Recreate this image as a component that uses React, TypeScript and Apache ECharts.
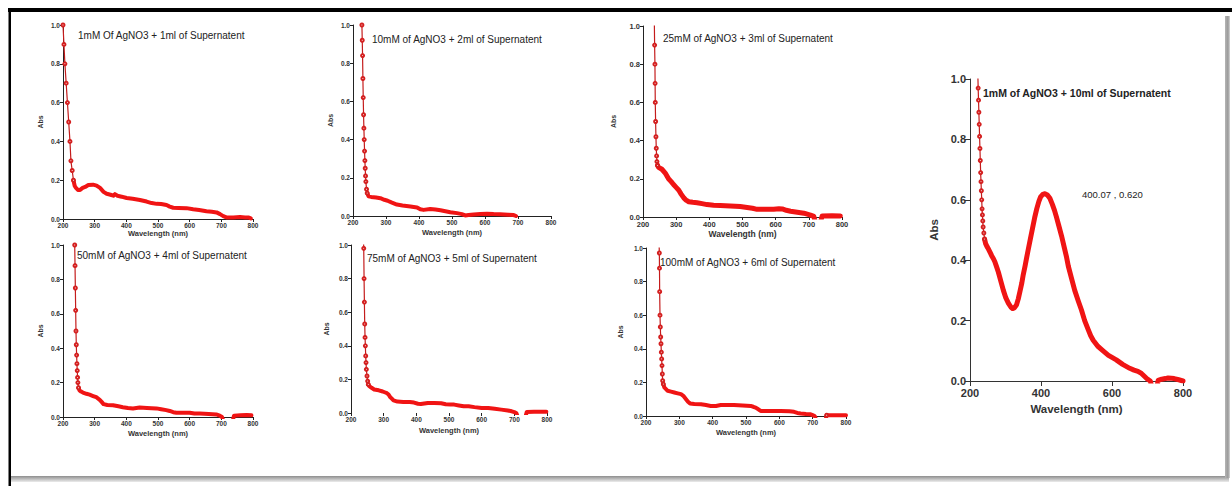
import React, { useEffect, useRef } from "react";
import * as echarts from "echarts";

// ---- Data (wavelength nm, absorbance) ----
const wavelengthTicks = [200, 300, 400, 500, 600, 700, 800];
const absTicks = [0, 0.2, 0.4, 0.6, 0.8, 1.0];

const titles = [
  "1mM Of AgNO3 + 1ml of Supernatent",
  "10mM of AgNO3 + 2ml of Supernatent",
  "25mM of AgNO3 + 3ml of Supernatent",
  "50mM of AgNO3 + 4ml of Supernatent",
  "75mM of AgNO3 + 5ml of Supernatent",
  "100mM of AgNO3 + 6ml of Supernatent",
  "1mM of AgNO3 + 10ml of Supernatent",
];
const peakLabel = "400.07 , 0.620";
const xName = "Wavelength (nm)";
const yName = "Abs";

const s1: [number, number][] = [
  [200, 1.0], [203, 0.9], [206, 0.8], [210, 0.7], [214, 0.6], [218, 0.5], [222, 0.4], [225, 0.3],
  [229, 0.25], [233, 0.2], [237, 0.17], [241, 0.16], [247, 0.15], [254, 0.15], [262, 0.16], [270, 0.165],
  [280, 0.175], [295, 0.177], [306, 0.172], [317, 0.16], [328, 0.14], [338, 0.13], [350, 0.125], [359, 0.12],
  [364, 0.128], [372, 0.12], [385, 0.115], [401, 0.108], [420, 0.104], [443, 0.098], [464, 0.09], [480, 0.082],
  [496, 0.078], [510, 0.077], [527, 0.072], [537, 0.064], [548, 0.058], [565, 0.057], [590, 0.056], [611, 0.05],
  [630, 0.046], [653, 0.04], [670, 0.037], [685, 0.034], [696, 0.025], [706, 0.015], [716, 0.008], [738, 0.008],
  [759, 0.01], [775, 0.008], [785, 0.008], [793, 0.003],
];
const s2: [number, number][] = [
  [226, 1.05], [227, 1.0], [228, 0.92], [229, 0.84], [230, 0.72], [231, 0.62], [232, 0.53], [233, 0.46],
  [234, 0.4], [235, 0.34], [236, 0.29], [237, 0.25], [238, 0.21], [239, 0.18], [241, 0.14], [243, 0.12],
  [247, 0.103], [255, 0.1], [270, 0.097], [283, 0.093], [295, 0.085], [305, 0.08], [318, 0.07], [333, 0.06],
  [350, 0.055], [374, 0.05], [394, 0.045], [404, 0.035], [414, 0.032], [434, 0.037], [450, 0.034], [465, 0.03],
  [480, 0.025], [495, 0.02], [515, 0.015], [530, 0.01], [540, 0.003], [550, 0.005], [566, 0.008], [586, 0.01],
  [606, 0.012], [626, 0.01], [646, 0.009], [670, 0.007], [687, 0.005], [694, 0],
];
const s3: [number, number][] = [
  [234, 1.05], [235, 0.9], [236, 0.8], [236.5, 0.7], [237, 0.6], [238, 0.5], [239, 0.42], [240, 0.36],
  [241, 0.32], [242, 0.29], [244, 0.27], [247, 0.26], [257, 0.25], [267, 0.23], [277, 0.2], [285, 0.185],
  [292, 0.17], [300, 0.155], [308, 0.14], [315, 0.12], [323, 0.1], [330, 0.088], [338, 0.08], [350, 0.077],
  [363, 0.075], [378, 0.07], [393, 0.065], [413, 0.062], [433, 0.06], [463, 0.058], [493, 0.055], [514, 0.05],
  [530, 0.046], [544, 0.04], [570, 0.04], [594, 0.04], [610, 0.043], [620, 0.042], [632, 0.035], [645, 0.03],
  [665, 0.025], [685, 0.02], [695, 0.015], [705, 0.01], [715, 0.003], [720, -0.03], [735, -0.03], [740, 0.005],
  [770, 0.006], [795, 0.005],
];
const s4: [number, number][] = [
  [236, 1.05], [237, 1.0], [238, 0.88], [239, 0.75], [240, 0.62], [241, 0.5], [242, 0.42], [243, 0.36],
  [244, 0.31], [245, 0.27], [246, 0.23], [247, 0.2], [249, 0.17], [252, 0.155], [257, 0.148], [263, 0.142],
  [274, 0.135], [284, 0.13], [295, 0.122], [305, 0.115], [316, 0.1], [322, 0.088], [328, 0.075], [340, 0.07],
  [358, 0.068], [375, 0.062], [389, 0.057], [405, 0.052], [421, 0.05], [442, 0.055], [465, 0.053], [495, 0.05],
  [510, 0.045], [526, 0.04], [537, 0.035], [548, 0.028], [558, 0.025], [580, 0.025], [600, 0.025], [615, 0.02],
  [632, 0.02], [660, 0.018], [684, 0.015], [695, 0.008], [702, 0], [708, -0.03], [735, -0.03], [740, 0.008],
  [760, 0.01], [780, 0.012], [795, 0.01],
];
const s5: [number, number][] = [
  [238, 1.05], [239, 0.98], [240, 0.8], [241, 0.66], [242, 0.53], [243, 0.45], [244, 0.4], [245, 0.34],
  [246, 0.3], [247, 0.26], [249, 0.22], [251, 0.19], [253, 0.17], [256, 0.16], [263, 0.15], [271, 0.14],
  [285, 0.135], [297, 0.128], [305, 0.122], [310, 0.118], [315, 0.11], [320, 0.095], [325, 0.085], [330, 0.075],
  [342, 0.068], [360, 0.066], [380, 0.065], [393, 0.062], [405, 0.055], [414, 0.053], [435, 0.06], [455, 0.06],
  [476, 0.058], [490, 0.052], [505, 0.05], [516, 0.05], [530, 0.045], [545, 0.04], [560, 0.04], [578, 0.035],
  [600, 0.03], [620, 0.03], [640, 0.025], [660, 0.02], [680, 0.015], [692, 0.01], [700, 0.005], [706, 0],
  [712, -0.03], [733, -0.03], [738, 0.006], [760, 0.008], [780, 0.008], [798, 0.008],
];
const s6: [number, number][] = [
  [239, 1.05], [240, 0.97], [240.5, 0.88], [241, 0.74], [242, 0.6], [243, 0.53], [244, 0.47], [245, 0.43],
  [246, 0.38], [247, 0.34], [248, 0.3], [249, 0.25], [250, 0.21], [252, 0.19], [255, 0.17], [260, 0.16],
  [265, 0.15], [275, 0.145], [285, 0.14], [295, 0.135], [305, 0.13], [312, 0.12], [320, 0.1], [326, 0.085],
  [332, 0.075], [345, 0.072], [365, 0.07], [380, 0.065], [394, 0.06], [410, 0.06], [424, 0.065], [445, 0.065],
  [464, 0.065], [490, 0.062], [514, 0.06], [522, 0.055], [529, 0.05], [537, 0.04], [544, 0.03], [570, 0.03],
  [604, 0.03], [630, 0.028], [644, 0.025], [654, 0.018], [664, 0.015], [680, 0.012], [694, 0.01], [700, 0.005],
  [706, 0], [712, -0.03], [738, -0.03], [742, 0.005], [770, 0.005], [800, 0.005],
];
const s7: [number, number][] = [
  [222, 1.02], [223, 0.97], [224, 0.93], [225, 0.89], [226, 0.85], [227, 0.81], [228, 0.77], [229, 0.73],
  [230, 0.69], [231, 0.66], [232, 0.63], [233, 0.6], [234, 0.57], [235, 0.55], [236, 0.53], [237, 0.51],
  [239, 0.49], [241, 0.47], [244, 0.455], [248, 0.445], [252, 0.437], [257, 0.425], [261, 0.415], [266, 0.405],
  [270, 0.395], [275, 0.378], [280, 0.36], [287, 0.33], [294, 0.3], [301, 0.275], [308, 0.258], [315, 0.245],
  [320, 0.24], [325, 0.242], [331, 0.252], [336, 0.272], [341, 0.298], [346, 0.325], [350, 0.352], [355, 0.38],
  [359, 0.405], [364, 0.435], [370, 0.47], [376, 0.505], [382, 0.54], [388, 0.57], [394, 0.595], [399, 0.61],
  [405, 0.618], [411, 0.62], [418, 0.616], [425, 0.605], [432, 0.585], [438, 0.565], [443, 0.545], [450, 0.515],
  [458, 0.48], [466, 0.44], [472, 0.41], [477, 0.38], [486, 0.34], [495, 0.3], [505, 0.265], [514, 0.235],
  [523, 0.2], [533, 0.17], [540, 0.15], [547, 0.135], [560, 0.115], [575, 0.1], [590, 0.085], [600, 0.078],
  [612, 0.07], [630, 0.055], [650, 0.042], [662, 0.036], [673, 0.032], [683, 0.025], [692, 0.015], [700, 0.006],
  [708, 0], [714, -0.03], [725, -0.03], [730, 0.002], [740, 0.006], [750, 0.008], [758, 0.01], [767, 0.009],
  [775, 0.008], [788, 0.004], [800, 0],
];

const seriesData = [s1, s2, s3, s4, s5, s6, s7];

// ---- Layout / styling ----
const FONT = "'Liberation Sans', Arial, Helvetica, sans-serif";
const panels = [
  { left: 63, top: 25, width: 190, height: 194, tx: 78, ty: 35, tick: 6.5, name: 7.5, yGap: 19, xGap: 10, xInt: 100, thick: 4, xLine: true, big: false },
  { left: 353, top: 25, width: 198, height: 191, tx: 372, ty: 39, tick: 6.5, name: 7.5, yGap: 19, xGap: 12, xInt: 100, thick: 4, xLine: true, big: false },
  { left: 643, top: 26, width: 199, height: 191, tx: 663, ty: 38, tick: 7.5, name: 8.5, yGap: 26, xGap: 12, xInt: 100, thick: 5, xLine: true, big: false },
  { left: 63, top: 245, width: 190, height: 172, tx: 77, ty: 255, tick: 6.5, name: 7.5, yGap: 19, xGap: 12, xInt: 100, thick: 4, xLine: true, big: false },
  { left: 351, top: 245, width: 196, height: 168, tx: 367, ty: 258, tick: 6.5, name: 7.5, yGap: 21, xGap: 13, xInt: 100, thick: 4, xLine: false, big: false },
  { left: 646, top: 248, width: 200, height: 168, tx: 660, ty: 262, tick: 6.5, name: 7.5, yGap: 22, xGap: 12, xInt: 100, thick: 4, xLine: true, big: false },
  { left: 970, top: 79, width: 213, height: 302, tx: 983, ty: 93, tick: 11, name: 11.5, yGap: 30, xGap: 18, xInt: 200, thick: 5, xLine: true, big: true },
];

const STEEP = 0.008;

function splitSteep(data: [number, number][]) {
  const steep: boolean[] = [];
  for (let i = 0; i < data.length - 1; i++) {
    const s = Math.abs((data[i + 1][1] - data[i][1]) / (data[i + 1][0] - data[i][0]));
    steep.push(s > STEEP);
  }
  const thin = data.map((p, i) => {
    const a = i > 0 && steep[i - 1];
    const b = i < data.length - 1 && steep[i];
    return a || b ? p : [p[0], "-"];
  });
  const thick = data.map((p, i) => {
    const a = i > 0 && !steep[i - 1];
    const b = i < data.length - 1 && !steep[i];
    return a || b ? p : [p[0], "-"];
  });
  return { thin, thick };
}

function buildOption() {
  const grid: any[] = [];
  const xAxis: any[] = [];
  const yAxis: any[] = [];
  const series: any[] = [];
  const texts: any[] = [];

  panels.forEach((p, i) => {
    grid.push({ left: p.left, top: p.top, width: p.width, height: p.height, containLabel: false });
    const axisColor = p.big ? "#333" : "#222";
    const lblStyle = { fontSize: p.tick, fontWeight: "bold", color: "#333", fontFamily: FONT };
    xAxis.push({
      type: "value",
      gridIndex: i,
      min: wavelengthTicks[0],
      max: wavelengthTicks[wavelengthTicks.length - 1],
      interval: p.xInt,
      name: xName,
      nameLocation: "middle",
      nameGap: p.xGap,
      nameTextStyle: { fontSize: p.name, fontWeight: "bold", color: "#333", fontFamily: FONT },
      axisLine: { show: p.xLine, onZero: false, lineStyle: { color: axisColor, width: 1 } },
      axisTick: { show: true, length: p.big ? 5 : 3, lineStyle: { color: axisColor } },
      axisLabel: { ...lblStyle, margin: p.big ? 6 : 3 },
      splitLine: { show: false },
    });
    yAxis.push({
      type: "value",
      gridIndex: i,
      min: absTicks[0],
      max: absTicks[absTicks.length - 1],
      interval: 0.2,
      name: yName,
      nameLocation: "middle",
      nameGap: p.yGap,
      nameRotate: 90,
      nameTextStyle: { fontSize: p.big ? 11.5 : 7, fontWeight: "bold", color: "#333", fontFamily: FONT },
      axisLine: { show: true, lineStyle: { color: axisColor, width: 1 } },
      axisTick: { show: true, length: p.big ? 5 : 3, lineStyle: { color: axisColor } },
      axisLabel: { ...lblStyle, margin: p.big ? 4 : 3, formatter: (v: number) => v.toFixed(1) },
      splitLine: { show: false },
    });
    const { thin, thick } = splitSteep(seriesData[i]);
    series.push({
      type: "line",
      xAxisIndex: i,
      yAxisIndex: i,
      data: thick,
      showSymbol: false,
      clip: true,
      connectNulls: false,
      lineStyle: { color: "#f01414", width: p.thick, join: "round", cap: "round" },
      z: 2,
    });
    series.push({
      type: "line",
      xAxisIndex: i,
      yAxisIndex: i,
      data: thin,
      showSymbol: true,
      showAllSymbol: true,
      symbol: "emptyCircle",
      symbolSize: 3,
      clip: true,
      connectNulls: false,
      itemStyle: { color: "#d42020", borderWidth: 0.9, borderColor: "#d42020" },
      lineStyle: { color: "#c41c1c", width: 1.2 },
      z: 3,
    });
    texts.push({
      type: "text",
      x: p.tx,
      y: p.ty,
      z: 10,
      style: {
        text: titles[i],
        fontSize: p.big ? 10.5 : 10,
        fontWeight: p.big ? "bold" : "normal",
        fontFamily: FONT,
        fill: "#222",
        verticalAlign: "middle",
        align: "left",
      },
    });
  });

  texts.push({
    type: "text",
    x: 1082,
    y: 194,
    z: 10,
    style: { text: peakLabel, fontSize: 9.5, fontFamily: FONT, fill: "#222", verticalAlign: "middle", align: "left" },
  });

  // Frame around the figure
  const frame = [
    { type: "rect", shape: { x: 8, y: 8, width: 1224, height: 4 }, style: { fill: "#000" }, z: 20 },
    { type: "rect", shape: { x: 8.5, y: 8, width: 2.5, height: 478 }, style: { fill: "#000" }, z: 20 },
    {
      type: "rect",
      shape: { x: 11, y: 476, width: 1218, height: 6 },
      style: {
        fill: new echarts.graphic.LinearGradient(0, 0, 0, 1, [
          { offset: 0, color: "#8e8e8e" },
          { offset: 1, color: "#ececec" },
        ]),
      },
      z: 20,
    },
    {
      type: "rect",
      shape: { x: 1225, y: 16, width: 5, height: 462 },
      style: {
        fill: new echarts.graphic.LinearGradient(0, 0, 1, 0, [
          { offset: 0, color: "#b5b5b5" },
          { offset: 0.6, color: "#9a9a9a" },
          { offset: 1, color: "#d8d8d8" },
        ]),
      },
      z: 20,
    },
  ];

  return {
    animation: false,
    backgroundColor: "#ffffff",
    textStyle: { fontFamily: FONT },
    grid,
    xAxis,
    yAxis,
    series,
    graphic: [...frame, ...texts],
  };
}

export default function App() {
  const ref = useRef<HTMLDivElement>(null);
  useEffect(() => {
    if (!ref.current) return;
    const chart = echarts.init(ref.current, undefined, { renderer: "svg" });
    chart.setOption(buildOption() as any);
    return () => chart.dispose();
  }, []);
  return (
    <div
      ref={ref}
      style={{ position: "absolute", left: 0, top: 0, width: 1232, height: 486, background: "#fff" }}
    />
  );
}
